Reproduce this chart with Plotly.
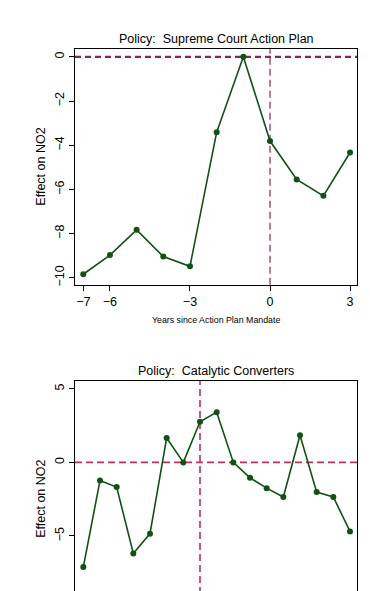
import plotly.graph_objects as go

# Panel 1: Supreme Court Action Plan
years1 = [-7, -6, -5, -4, -3, -2, -1, 0, 1, 2, 3]
effect1 = [-9.84, -8.97, -7.83, -9.04, -9.48, -3.41, 0.0, -3.81, -5.55, -6.29, -4.33]
xticks1 = [-7, -6, -3, 0, 3]
yticks1 = [0, -2, -4, -6, -8, -10]

# Panel 2: Catalytic Converters
years2 = [-7, -6, -5, -4, -3, -2, -1, 0, 1, 2, 3, 4, 5, 6, 7, 8, 9]
effect2 = [-7.11, -1.23, -1.68, -6.19, -4.84, 1.66, 0.0, 2.76, 3.41, 0.0,
           -1.05, -1.75, -2.35, 1.84, -2.02, -2.35, -4.69]
yticks2 = [5, 0, -5]

title1 = "Policy:  Supreme Court Action Plan"
title2 = "Policy:  Catalytic Converters"
xtitle1 = "Years since Action Plan Mandate"
ytitle = "Effect on NO2"

W, H = 370, 591
GREEN = "#0f5214"
FONT = "Liberation Sans, Arial, sans-serif"

def px_x(a, b):
    return [a / W, b / W]

def px_y(top, bottom):
    return [1 - bottom / H, 1 - top / H]

fig = go.Figure()
line_style = dict(color=GREEN, width=1.6)
marker_style = dict(color=GREEN, size=6)
fig.add_trace(go.Scatter(x=years1, y=effect1, mode="lines+markers",
                         line=line_style, marker=marker_style,
                         xaxis="x", yaxis="y", showlegend=False))
fig.add_trace(go.Scatter(x=years2, y=effect2, mode="lines+markers",
                         line=line_style, marker=marker_style,
                         xaxis="x2", yaxis="y2", showlegend=False))

axis_common = dict(showline=True, linecolor="black", linewidth=1.3, mirror=True,
                   ticks="outside", ticklen=5, tickcolor="black", tickwidth=1,
                   showgrid=False, zeroline=False,
                   tickfont=dict(family=FONT, size=12.5, color="black"))

fig.update_layout(
    width=W, height=H,
    margin=dict(l=0, r=0, t=0, b=0),
    paper_bgcolor="white", plot_bgcolor="white",
    xaxis=dict(domain=px_x(67, 349), range=[-7.31, 3.26], anchor="y",
               tickvals=xticks1, **axis_common),
    yaxis=dict(domain=px_y(41.7, 279), range=[-10.31, 0.34], anchor="x",
               tickvals=yticks1, tickangle=-90, **axis_common),
    xaxis2=dict(domain=px_x(67, 349), range=[-7.5, 9.42], anchor="y2",
                showticklabels=False, **axis_common),
    yaxis2=dict(domain=px_y(376, 591), range=[-8.94, 5.54], anchor="x2",
                tickvals=yticks2, tickangle=-90, **axis_common),
)

# reference lines
fig.add_shape(type="line", xref="x domain", x0=0, x1=1, yref="y", y0=0, y1=0,
              line=dict(color="#8a2456", width=2.2, dash="6px,4px"), layer="below")
fig.add_shape(type="line", xref="x", x0=0, x1=0, yref="y domain", y0=0, y1=1,
              line=dict(color="#8a2456", width=1.2, dash="7px,4px"), layer="below")
fig.add_shape(type="line", xref="x2 domain", x0=0, x1=1, yref="y2", y0=0, y1=0,
              line=dict(color="#b8325f", width=1.6, dash="7px,4px"), layer="below")
fig.add_shape(type="line", xref="x2", x0=0, x1=0, yref="y2 domain", y0=0, y1=1,
              line=dict(color="#b8325f", width=1.6, dash="7px,4px"), layer="below")

# titles and axis labels
ann_font = dict(family=FONT, size=12.5, color="black")
fig.add_annotation(text=title1, x=208 / W, y=1 - 31.5 / H, xref="paper", yref="paper",
                   showarrow=False, font=ann_font, xanchor="center", yanchor="middle")
fig.add_annotation(text=title2, x=208 / W, y=1 - 366.5 / H, xref="paper", yref="paper",
                   showarrow=False, font=ann_font, xanchor="center", yanchor="middle")
fig.add_annotation(text=xtitle1, x=208 / W, y=1 - 315 / H, xref="paper", yref="paper",
                   showarrow=False, xanchor="center", yanchor="middle",
                   font=dict(family=FONT, size=8.8, color="black"))
fig.add_annotation(text=ytitle, x=33 / W, y=1 - 160 / H, xref="paper", yref="paper",
                   showarrow=False, textangle=-90, font=ann_font,
                   xanchor="center", yanchor="middle")
fig.add_annotation(text=ytitle, x=33 / W, y=1 - 495 / H, xref="paper", yref="paper",
                   showarrow=False, textangle=-90, font=ann_font,
                   xanchor="center", yanchor="middle")

fig.write_html("out.html")
